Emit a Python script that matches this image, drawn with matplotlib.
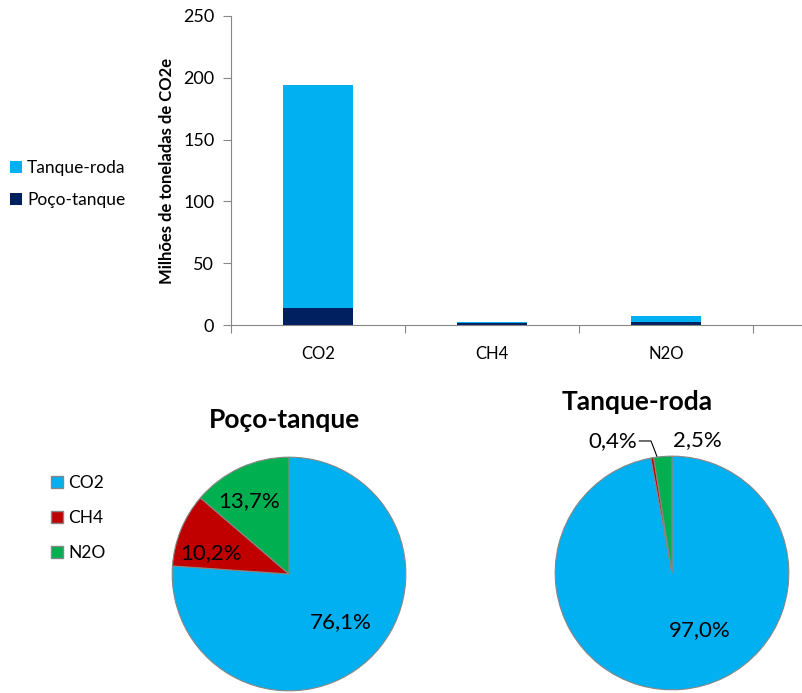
import numpy as np
import matplotlib.pyplot as plt

plt.rcParams['font.family'] = ['Lato', 'DejaVu Sans']

# emissões por gás (milhões de t CO2e)
gases = ['CO2', 'CH4', 'N2O']
poco_tanque = [14.0, 1.9, 2.5]
tanque_roda = [180.0, 0.7, 4.6]

# participação por etapa (%)
pct_poco = [76.1, 10.2, 13.7]
pct_tanque = [97.0, 0.4, 2.5]

azul = '#00B0F0'
marinho = '#002060'
vermelho = '#C00000'
verde = '#00B050'
cinza = '#878787'

W, H = 803, 693
fig = plt.figure(figsize=(W / 100, H / 100), dpi=100)


def px(x0, y0, x1, y1):
    # caixa em pixels (topo-esquerda) -> coordenadas da figura
    return [x0 / W, 1 - y1 / H, (x1 - x0) / W, (y1 - y0) / H]


# --- barras empilhadas ---
ax = fig.add_axes(px(231, 16, 803, 325))
x = np.arange(len(gases))
ax.bar(x, poco_tanque, width=0.4, color=marinho, label='Poço-tanque')
ax.bar(x, tanque_roda, width=0.4, bottom=poco_tanque, color=azul, label='Tanque-roda')
ax.set_ylim(0, 250)
ax.set_yticks(range(0, 251, 50))
ax.set_xlim(-0.5, 2.5 + 50 / 174)
ax.set_xticks([-0.5, 0.5, 1.5, 2.5])
ax.set_xticklabels([])
ax.set_xticks(x, minor=True)
ax.set_xticklabels(gases, minor=True, fontsize=12)
ax.tick_params(axis='x', which='minor', length=0, pad=15)
ax.tick_params(axis='x', which='major', length=6, color=cinza, direction='out')
ax.tick_params(axis='y', length=6, color=cinza, labelsize=13, pad=6)
for s in ['top', 'right']:
    ax.spines[s].set_visible(False)
for s in ['left', 'bottom']:
    ax.spines[s].set_color(cinza)
ax.set_ylabel('Milhões de toneladas de CO2e', fontsize=12, fontweight='bold', labelpad=6)

h, l = ax.get_legend_handles_labels()
fig.legend(h[::-1], l[::-1], loc='center left', bbox_to_anchor=(-6 / W, 1 - 184 / H),
           frameon=False, fontsize=12.5, handlelength=0.7, handleheight=0.7,
           handletextpad=0.3, labelspacing=0.9)

# --- pizzas ---
cores = [azul, vermelho, verde]
wp = dict(edgecolor=cinza, linewidth=0.8)

ax1 = fig.add_axes(px(171, 456, 407, 692))
ax1.pie(pct_poco, colors=cores, startangle=90, counterclock=False, wedgeprops=wp)
ax1.set_xlim(-1.01, 1.01)
ax1.set_ylim(-1.01, 1.01)
ax1.set_aspect('equal')
ax1.text(0.44, -0.41, '76,1%', fontsize=16, ha='center', va='center')
ax1.text(-0.67, 0.18, '10,2%', fontsize=16, ha='center', va='center')
ax1.text(-0.34, 0.62, '13,7%', fontsize=16, ha='center', va='center')
fig.text(285 / W, 1 - 420 / H, 'Poço-tanque', fontsize=19, fontweight='bold',
         ha='center', va='center')

ax2 = fig.add_axes(px(554, 455, 790, 691))
ax2.pie(pct_tanque, colors=cores, startangle=90, counterclock=False, wedgeprops=wp)
ax2.set_xlim(-1.01, 1.01)
ax2.set_ylim(-1.01, 1.01)
ax2.set_aspect('equal')
ax2.text(0.24, -0.49, '97,0%', fontsize=16, ha='center', va='center')
ax2.text(0.22, 1.14, '2,5%', fontsize=16, ha='center', va='center')
ax2.text(-0.51, 1.13, '0,4%', fontsize=16, ha='center', va='center')
ax2.plot([-0.28, -0.18, -0.16, -0.13], [1.13, 1.13, 1.08, 1.0], color='black',
         lw=0.8, clip_on=False)
fig.text(637 / W, 1 - 402 / H, 'Tanque-roda', fontsize=19, fontweight='bold',
         ha='center', va='center')

hp = [plt.Rectangle((0, 0), 1, 1, facecolor=c, edgecolor=cinza) for c in cores]
fig.legend(hp, gases, loc='center left', bbox_to_anchor=(35 / W, 1 - 518 / H),
           frameon=False, fontsize=12.5, handlelength=0.7, handleheight=0.7,
           handletextpad=0.3, labelspacing=1.1)

fig.savefig('out.png', dpi=100)
